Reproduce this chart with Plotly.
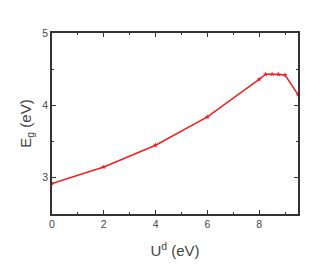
import plotly.graph_objects as go

u_d = [0, 2, 4, 6, 8, 8.25, 8.5, 8.75, 9, 9.5]
e_g = [2.92, 3.15, 3.45, 3.84, 4.36, 4.43, 4.43, 4.43, 4.42, 4.15]

x_ticks = [0, 2, 4, 6, 8]
y_ticks = [3, 4, 5]

fig = go.Figure()
fig.add_trace(go.Scatter(
    x=u_d, y=e_g, mode="lines+markers",
    line=dict(color="#f02020", width=1.5),
    marker=dict(symbol="star", size=4, color="#f02020"),
    cliponaxis=False,
))

axis_common = dict(
    showline=True, linecolor="#333333", linewidth=1.5, mirror="ticks",
    ticks="inside", ticklen=4, tickwidth=1, tickcolor="#333333",
    showgrid=False, zeroline=False, automargin=False,
    tickfont=dict(family="Liberation Sans, Arial", size=10.5, color="#444444"),
)

fig.update_xaxes(
    range=[0, 9.5], tickvals=x_ticks, ticktext=[str(v) for v in x_ticks],
    minor=dict(tickvals=[1, 3, 5, 7, 9], ticks="inside", ticklen=2, tickcolor="#333333"),
    title=dict(text="U<sup>d</sup> (eV)", font=dict(family="Liberation Sans, Arial", size=15, color="#444444"), standoff=16),
    **axis_common,
)
fig.update_yaxes(
    range=[2.5, 5], tickvals=y_ticks, ticktext=[str(v) for v in y_ticks],
    minor=dict(tickvals=[3.5, 4.5], ticks="inside", ticklen=2, tickcolor="#333333"),
    title=dict(text="E<sub>g</sub> (eV)", font=dict(family="Liberation Sans, Arial", size=15, color="#444444"), standoff=7),
    **axis_common,
)

fig.update_layout(
    width=324, height=269,
    margin=dict(l=44, r=34, t=25, b=63),
    plot_bgcolor="white", paper_bgcolor="white",
    showlegend=False,
)

fig.write_html("out.html")
